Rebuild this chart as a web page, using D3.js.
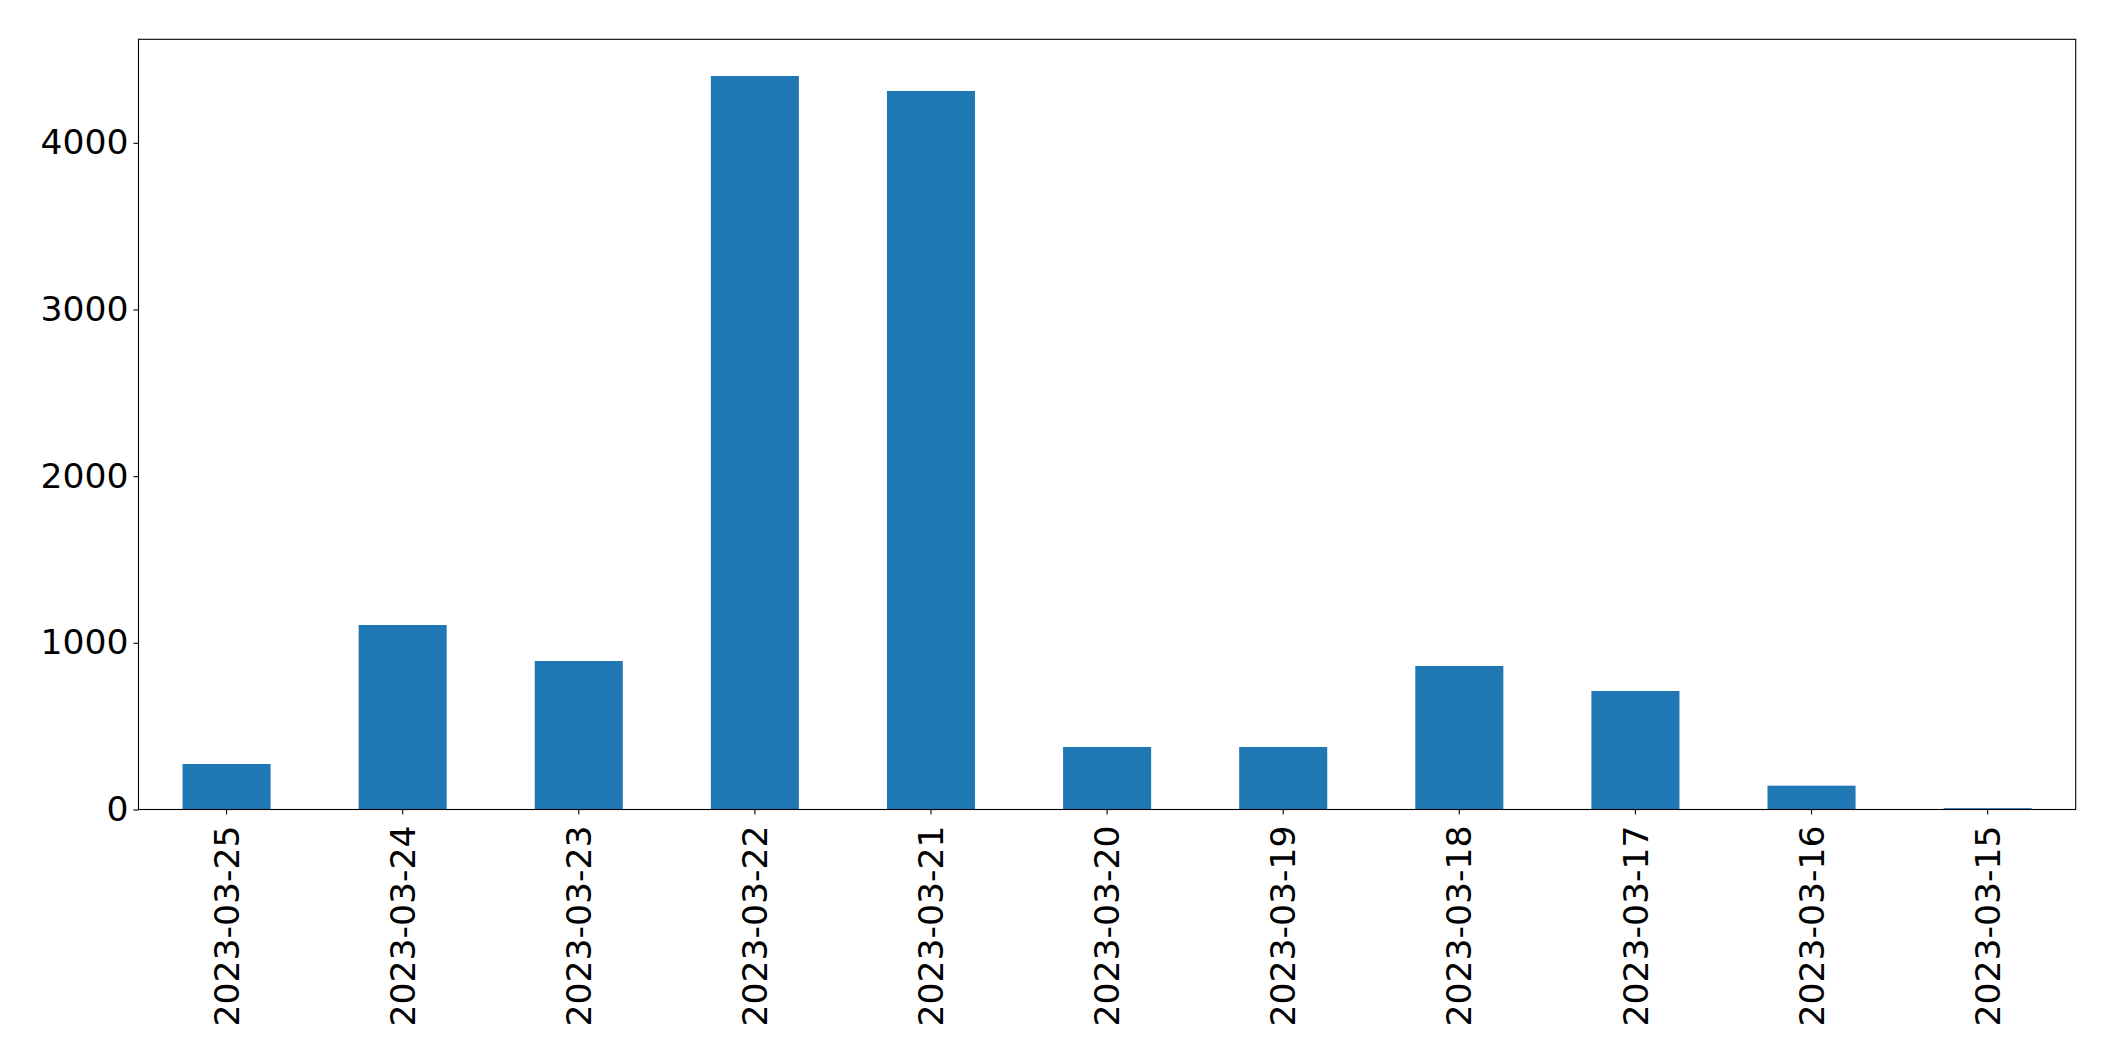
<!DOCTYPE html>
<html>
<head>
<meta charset="utf-8">
<script src="https://cdn.jsdelivr.net/npm/d3@7"></script>
<style>
  html, body { margin: 0; padding: 0; background: #ffffff; }
  svg { display: block; }
  text { font-family: "DejaVu Sans", sans-serif; fill: #000; }
</style>
</head>
<body>
<script>
const categories = ["2023-03-25","2023-03-24","2023-03-23","2023-03-22","2023-03-21","2023-03-20","2023-03-19","2023-03-18","2023-03-17","2023-03-16","2023-03-15"];
const values = [273, 1107, 891, 4401, 4311, 375, 375, 861, 711, 143, 8];
const yTicks = [0, 1000, 2000, 3000, 4000];

const W = 2115, H = 1061;
const margin = { left: 138.5, right: W - 2075.7, top: 39.3, bottom: H - 809.5 };

const svg = d3.select("body").append("svg").attr("width", W).attr("height", H);

const x = d3.scaleBand()
  .domain(categories)
  .range([margin.left, W - margin.right])
  .paddingInner(0.5)
  .paddingOuter(0.25);

const yMax = d3.max(values) * 1.05;
const y = d3.scaleLinear().domain([0, yMax]).range([H - margin.bottom, margin.top]);

// bars
svg.append("g").selectAll("rect")
  .data(values)
  .join("rect")
  .attr("x", (d, i) => x(categories[i]))
  .attr("width", x.bandwidth())
  .attr("y", d => y(d))
  .attr("height", d => y(0) - y(d))
  .attr("fill", "#1f77b4");

const fontSize = 34.6;

// y axis
const yAxis = d3.axisLeft(y).tickValues(yTicks).tickSize(5).tickPadding(5).tickFormat(d3.format("d"));
const gy = svg.append("g").attr("transform", `translate(${margin.left},0)`).call(yAxis);
gy.select(".domain").remove();
gy.selectAll(".tick line").attr("stroke", "#000").attr("stroke-width", 1.1);
gy.selectAll(".tick text").attr("font-size", fontSize).attr("font-family", "DejaVu Sans").attr("fill", "#000");

// x axis
const xAxis = d3.axisBottom(x).tickSize(5).tickPadding(13);
const gx = svg.append("g").attr("transform", `translate(0,${H - margin.bottom})`).call(xAxis);
gx.select(".domain").remove();
gx.selectAll(".tick line").attr("stroke", "#000").attr("stroke-width", 1.1);
gx.selectAll(".tick text")
  .attr("font-size", fontSize)
  .attr("font-family", "DejaVu Sans")
  .attr("fill", "#000")
  .attr("text-anchor", "end")
  .attr("x", 0)
  .attr("y", 0)
  .attr("dy", "0.35em")
  .attr("transform", "translate(0,16) rotate(-90)");

// frame
svg.append("rect")
  .attr("x", margin.left)
  .attr("y", margin.top)
  .attr("width", W - margin.right - margin.left)
  .attr("height", H - margin.bottom - margin.top)
  .attr("fill", "none")
  .attr("stroke", "#000")
  .attr("stroke-width", 1.1);
</script>
</body>
</html>
